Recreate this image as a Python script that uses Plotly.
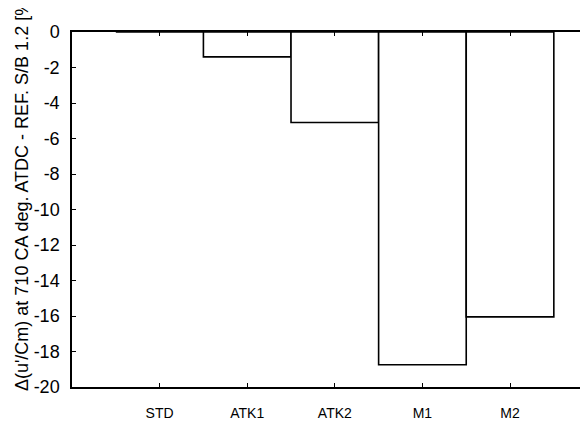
import plotly.graph_objects as go

categories = ["STD", "ATK1", "ATK2", "M1", "M2"]
values = [0.0, -1.4, -5.1, -18.75, -16.05]
positions = [1, 2, 3, 4, 5]
y_ticks = [0, -2, -4, -6, -8, -10, -12, -14, -16, -18, -20]

fig = go.Figure()
fig.add_trace(go.Bar(
    x=positions, y=values, width=1.0,
    marker=dict(color="white", line=dict(color="black", width=1.6)),
))

fig.update_layout(
    width=580, height=415,
    margin=dict(l=64, r=0, t=24, b=36),
    paper_bgcolor="white", plot_bgcolor="white",
    showlegend=False,
    font=dict(family="Liberation Sans, Arial, sans-serif", color="black"),
    xaxis=dict(
        range=[0, 5.89], tickvals=positions, ticktext=categories,
        showline=True, linecolor="black", linewidth=1.5, mirror="ticks",
        ticks="inside", ticklen=4, tickcolor="black", tickwidth=1,
        showgrid=False, zeroline=False, tickfont=dict(size=14),
        ticklabelstandoff=12,
    ),
    yaxis=dict(
        range=[-20, 0], tickvals=y_ticks, ticktext=[str(v) for v in y_ticks],
        showline=True, linecolor="black", linewidth=1.5, mirror=False,
        ticks="inside", ticklen=4, tickcolor="black", tickwidth=1,
        showgrid=False, zeroline=False, tickfont=dict(size=18),
        ticklabelstandoff=7,
    ),
    annotations=[dict(
        text="Δ(u'/Cm) at 710 CA deg. ATDC - REF. S/B 1.2 [%]",
        textangle=-90, xref="paper", yref="paper",
        x=-0.098, y=-0.016, xanchor="center", yanchor="bottom",
        showarrow=False, font=dict(size=18),
    )],
)

fig.write_html("out.html")
